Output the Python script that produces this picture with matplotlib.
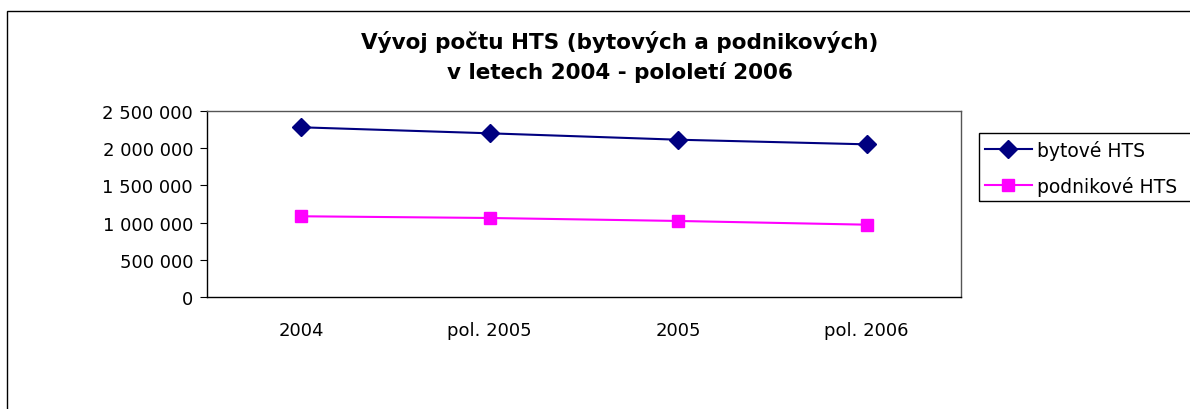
import matplotlib.pyplot as plt
from matplotlib.patches import Rectangle
from matplotlib.ticker import FuncFormatter

plt.rcParams['font.family'] = ['DejaVu Sans']

# data
obdobi = ['2004', 'pol. 2005', '2005', 'pol. 2006']
bytove = [2281000, 2200000, 2114000, 2052000]
podnikove = [1085000, 1062000, 1022000, 972000]

W, H = 1190, 410
fig = plt.figure(figsize=(W / 100, H / 100), dpi=100)
ax = fig.add_axes([207/W, 1 - 298/H, (961 - 207)/W, 186/H])

x = range(len(obdobi))
ax.plot(x, bytove, color='#000080', marker='D', markersize=9, linewidth=1.5,
        label='bytové HTS')
ax.plot(x, podnikove, color='#FF00FF', marker='s', markersize=8.5, linewidth=1.5,
        label='podnikové HTS')

ax.set_xlim(-0.5, len(obdobi) - 0.5)
ax.set_ylim(0, 2500000)
ax.set_yticks(range(0, 2500001, 500000))
ax.yaxis.set_major_formatter(FuncFormatter(lambda v, p: f'{int(v):,}'.replace(',', ' ')))
ax.set_xticks(list(x))
ax.set_xticklabels(obdobi)
ax.tick_params(axis='x', length=0, pad=17, labelsize=13)
ax.tick_params(axis='y', length=5, direction='out', labelsize=13, pad=5)

for s in ['top', 'right']:
    ax.spines[s].set_color('#555555')
    ax.spines[s].set_linewidth(1)
for s in ['left', 'bottom']:
    ax.spines[s].set_color('black')
    ax.spines[s].set_linewidth(1)

fig.text(620/W, 1 - 57/H, 'Vývoj počtu HTS (bytových a podnikových)\nv letech 2004 - pololetí 2006',
         ha='center', va='center', fontsize=15.5, fontweight='bold', linespacing=1.55)

leg = fig.legend(loc='upper left', bbox_to_anchor=(981/W, 1 - 137/H),
                 frameon=False, fontsize=13.5, handlelength=2.5,
                 borderaxespad=0, labelspacing=0.85, borderpad=0.2, handletextpad=0.3)

# legend box, runs off the right edge like in the original
fig.patches.append(Rectangle((979/W, 1 - 202/H), 0.3, 68/H,
                             transform=fig.transFigure, fill=False,
                             edgecolor='black', linewidth=1))

# outer chart frame
fig.patches.append(Rectangle((7/W, -0.05), 1.1, 1 - 12/H + 0.05,
                             transform=fig.transFigure, fill=False,
                             edgecolor='black', linewidth=1))

fig.savefig('out.png', dpi=100)
